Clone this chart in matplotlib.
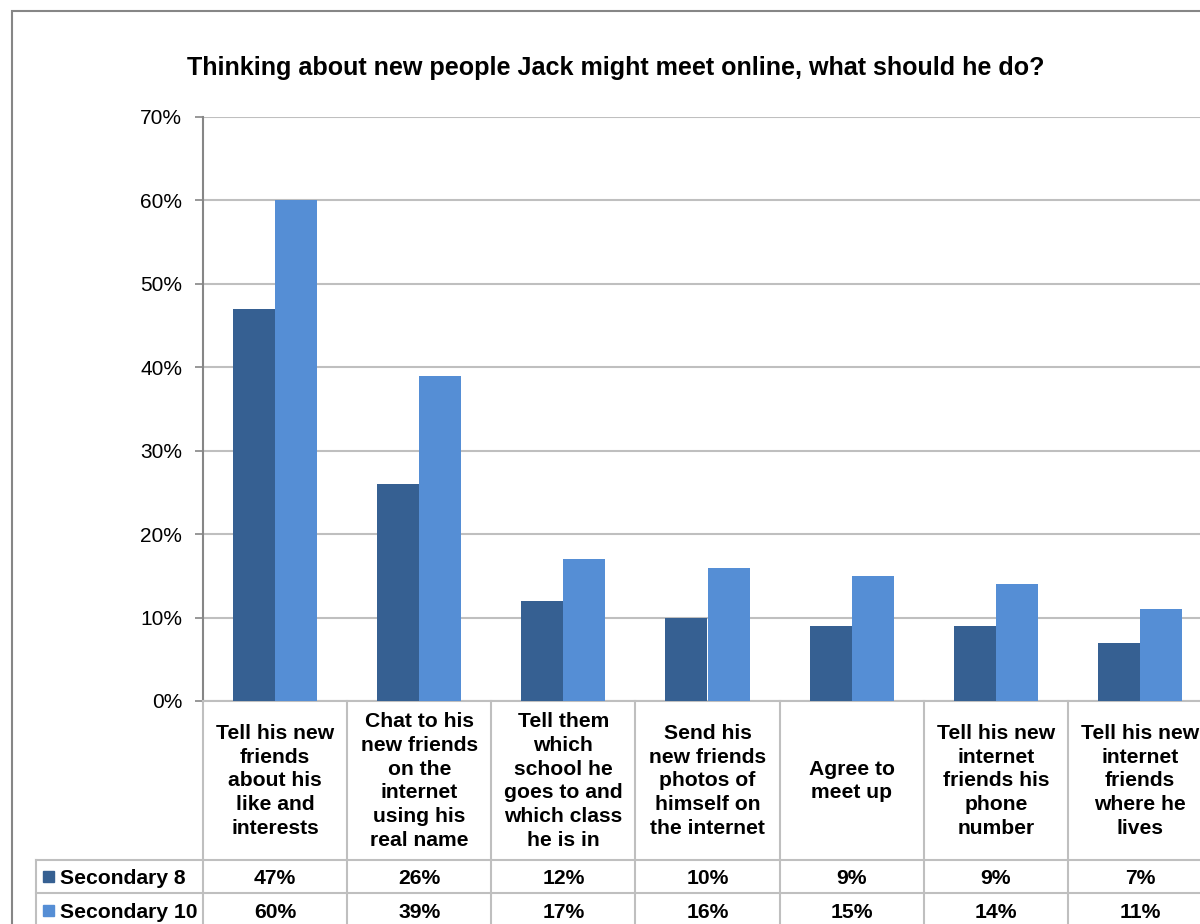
import matplotlib.pyplot as plt
import matplotlib.transforms as mtransforms
from matplotlib.patches import Rectangle
from matplotlib.lines import Line2D
import numpy as np

plt.rcParams['font.family'] = ['Liberation Sans', 'DejaVu Sans']

# data
categories = [
    'Tell his new\nfriends\nabout his\nlike and\ninterests',
    'Chat to his\nnew friends\non the\ninternet\nusing his\nreal name',
    'Tell them\nwhich\nschool he\ngoes to and\nwhich class\nhe is in',
    'Send his\nnew friends\nphotos of\nhimself on\nthe internet',
    'Agree to\nmeet up',
    'Tell his new\ninternet\nfriends his\nphone\nnumber',
    'Tell his new\ninternet\nfriends\nwhere he\nlives',
]
series_names = ['Secondary 8', 'Secondary 10']
sec8 = [47, 26, 12, 10, 9, 9, 7]
sec10 = [60, 39, 17, 16, 15, 14, 11]
colors = ['#366092', '#558ED5']
title = 'Thinking about new people Jack might meet online, what should he do?'

grid_c = '#BFBFBF'
axis_c = '#868686'

fig = plt.figure(figsize=(12, 9.24), dpi=100)
fig.patch.set_facecolor('white')

# outer chart frame (cut off at right / bottom)
fig.add_artist(Rectangle((12 / 1200, -0.05), 1.1, 1 - 11 / 924 + 0.05,
                         transform=fig.transFigure, fill=False,
                         edgecolor=axis_c, linewidth=1.5))

ax = fig.add_axes([203 / 1200, 1 - 701 / 924, 1009 / 1200, 584 / 924])
x = np.arange(len(categories)) + 0.5
w = 42 / 144
ax.bar(x - w / 2, sec8, width=w, color=colors[0], zorder=3)
ax.bar(x + w / 2, sec10, width=w, color=colors[1], zorder=3)

ax.set_xlim(0, len(categories))
ax.set_ylim(0, 70)
ax.set_yticks(range(0, 71, 10))
ax.set_yticklabels([f'{v}%' for v in range(0, 71, 10)])
ax.tick_params(axis='y', length=6, width=1.2, color=axis_c, pad=9, labelsize=15)
ax.set_xticks([])
ax.yaxis.grid(True, color=grid_c, linewidth=1.5, zorder=0)
for s in ['top', 'right']:
    ax.spines[s].set_visible(False)
ax.spines['left'].set_color(axis_c)
ax.spines['left'].set_linewidth(1.5)
ax.spines['bottom'].set_color(grid_c)
ax.spines['bottom'].set_linewidth(1.5)

fig.text(616 / 1200, 1 - 68 / 924, title, ha='center', va='center',
         fontsize=18.1, fontweight='bold')

# data table below the axis
trans = mtransforms.blended_transform_factory(ax.transData, ax.transAxes)
ph = 584
row_top = -(860 - 701) / ph
row_mid = -(893 - 701) / ph
row_bot = -(960 - 701) / ph

for i in range(len(categories) + 1):
    ax.add_line(Line2D([i, i], [0, row_bot], transform=trans, color=grid_c,
                       linewidth=1.5, clip_on=False))
for yy in [row_top, row_mid]:
    ax.add_line(Line2D([-167 / 144, len(categories)], [yy, yy], transform=trans,
                       color=grid_c, linewidth=1.5, clip_on=False))
ax.add_line(Line2D([-167 / 144, -167 / 144], [row_top, row_bot], transform=trans,
                   color=grid_c, linewidth=1.5, clip_on=False))

for i, lab in enumerate(categories):
    ax.text(x[i], -(781 - 701) / ph, lab, transform=trans, ha='center', va='center',
            fontsize=15.2, fontweight='bold', linespacing=1.31, clip_on=False)
    ax.text(x[i], -(878 - 701) / ph, f'{sec8[i]}%', transform=trans, ha='center',
            va='center', fontsize=15.2, fontweight='bold', clip_on=False)
    ax.text(x[i], -(912 - 701) / ph, f'{sec10[i]}%', transform=trans, ha='center',
            va='center', fontsize=15.2, fontweight='bold', clip_on=False)

for j, (name, yc) in enumerate(zip(series_names, [877, 911])):
    fig.add_artist(Rectangle((43 / 1200, 1 - (yc + 5) / 924), 11 / 1200, 11 / 924,
                             transform=fig.transFigure, color=colors[j]))
    fig.text(60 / 1200, 1 - (yc + 1) / 924, name, ha='left', va='center',
             fontsize=15.2, fontweight='bold')

fig.savefig('out.png', dpi=100)
